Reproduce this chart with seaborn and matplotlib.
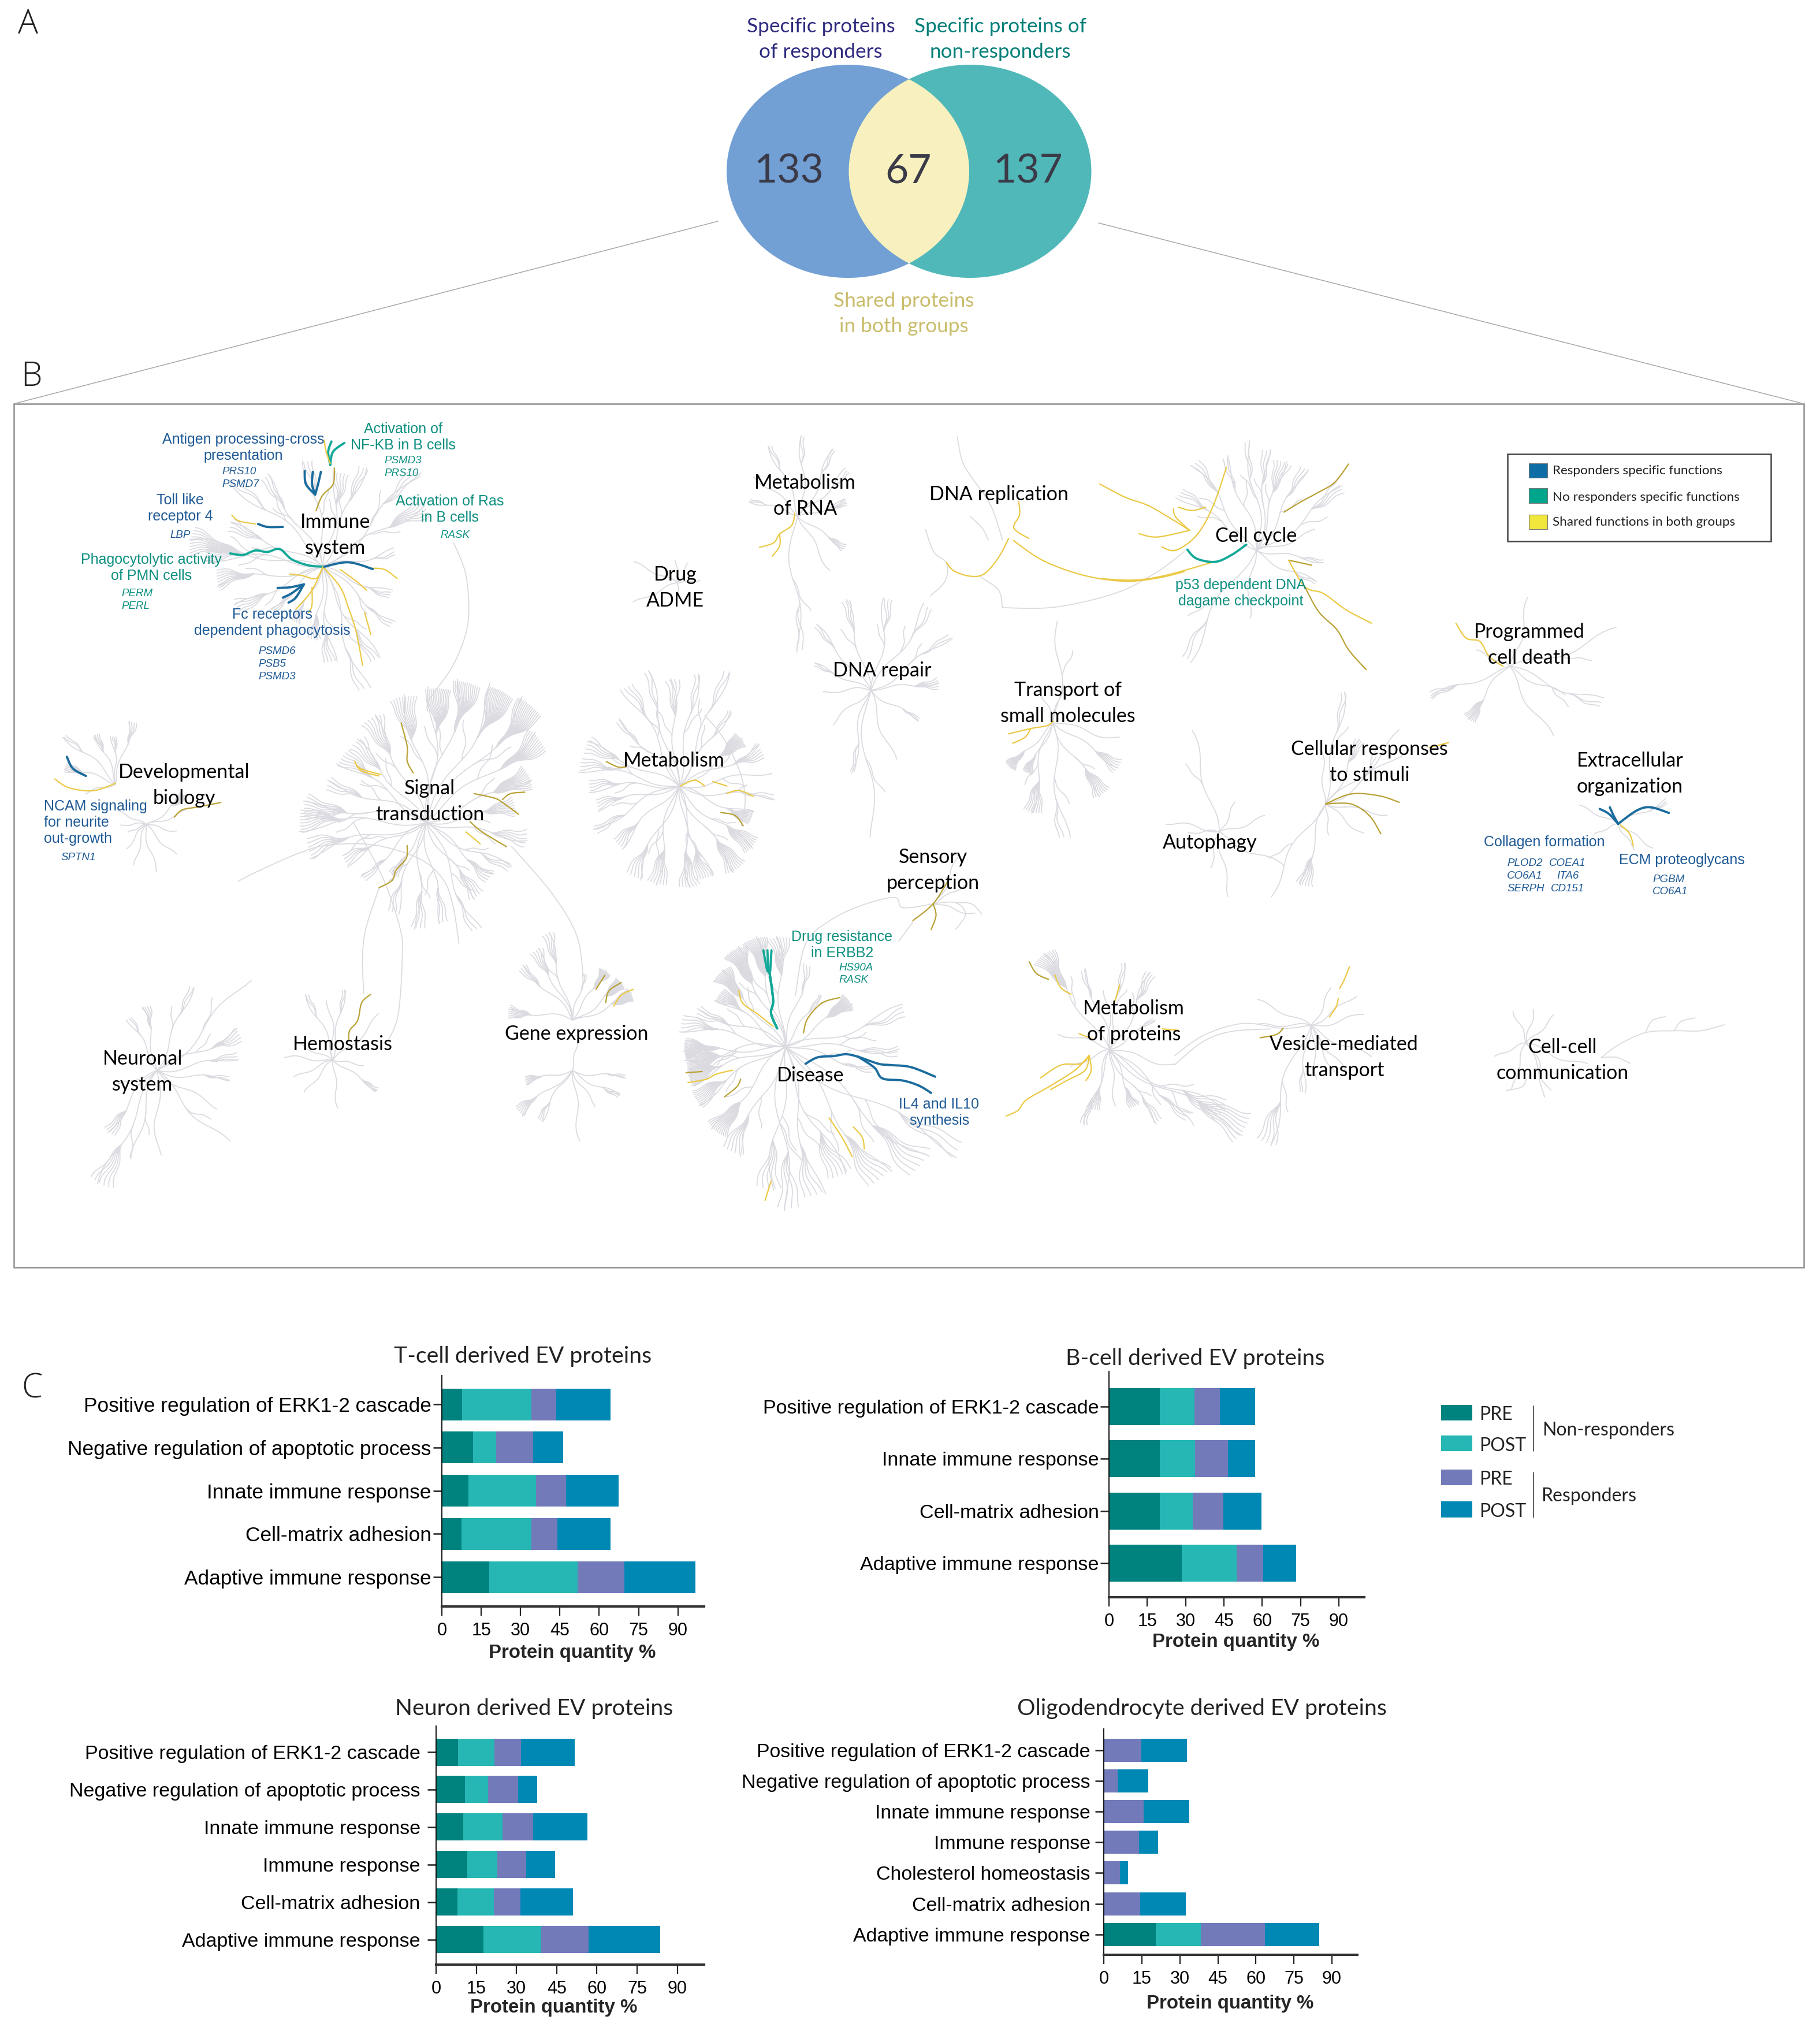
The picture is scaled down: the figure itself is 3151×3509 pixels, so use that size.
import numpy as np
import matplotlib
matplotlib.use("Agg")
import matplotlib.pyplot as plt
from matplotlib.collections import LineCollection
from matplotlib.patches import Ellipse, Rectangle
import seaborn as sns

W, H = 3151, 3509
BAR_COLORS = ["#00827F", "#26B7B5", "#727ABA", "#0088B5"]

# panel A counts
VENN_COUNTS = ["133", "67", "137"]

# panel C values, top row to bottom row
T_LABELS = ["Positive regulation of ERK1-2 cascade", "Negative regulation of apoptotic process",
            "Innate immune response", "Cell-matrix adhesion", "Adaptive immune response"]
T_NR_PRE = [7.7, 11.9, 10.2, 7.5, 18.1]
T_NR_POST = [26.5, 8.8, 25.7, 26.7, 33.7]
T_R_PRE = [9.5, 14.2, 11.5, 9.9, 17.9]
T_R_POST = [20.7, 11.4, 20.1, 20.3, 26.9]

B_LABELS = ["Positive regulation of ERK1-2 cascade", "Innate immune response",
            "Cell-matrix adhesion", "Adaptive immune response"]
B_NR_PRE = [20.0, 20.0, 20.0, 28.6]
B_NR_POST = [13.4, 13.6, 12.9, 21.3]
B_R_PRE = [10.1, 12.9, 12.0, 10.5]
B_R_POST = [13.7, 10.7, 14.9, 13.0]

N_LABELS = ["Positive regulation of ERK1-2 cascade", "Negative regulation of apoptotic process",
            "Innate immune response", "Immune response", "Cell-matrix adhesion",
            "Adaptive immune response"]
N_NR_PRE = [8.2, 10.8, 10.2, 11.7, 7.9, 17.6]
N_NR_POST = [13.5, 8.6, 14.5, 11.1, 13.6, 21.7]
N_R_PRE = [9.9, 11.3, 11.5, 10.9, 9.9, 17.5]
N_R_POST = [20.2, 7.1, 20.3, 10.8, 19.7, 26.9]

O_LABELS = ["Positive regulation of ERK1-2 cascade", "Negative regulation of apoptotic process",
            "Innate immune response", "Immune response", "Cholesterol homeostasis",
            "Cell-matrix adhesion", "Adaptive immune response"]
O_NR_PRE = [0, 0, 0, 0, 0, 0, 20.5]
O_NR_POST = [0, 0, 0, 0, 0, 0, 17.8]
O_R_PRE = [14.8, 5.4, 15.7, 13.9, 6.3, 14.4, 25.2]
O_R_POST = [17.9, 12.2, 17.9, 7.5, 3.3, 18.0, 21.5]

X_TICKS = [0, 15, 30, 45, 60, 75, 90]

# pathway tree hubs and their spokes: (angle, length, twigs)
TREES = [
    (559, 981, [(8,130,2),(25,210,7),(42,240,3),(62,190,3),(78,170,5),(97,190,3),(118,190,3),(135,220,2),
                (150,180,4),(163,240,10),(172,210,9),(183,190,8),(200,170,5),(218,120,3),(240,110,4),
                (258,130,5),(272,170,4),(284,230,2),(298,190,3),(315,160,2),(335,130,3)]),
    (738, 1424, [(5,160,8),(18,200,12),(32,250,12),(45,280,15),(58,270,16),(70,260,14),(84,240,14),(98,230,10),
                 (112,210,7),(125,190,5),(140,190,6),(155,190,4),(168,220,8),(178,225,8),(190,215,6),(203,160,4),
                 (218,150,3),(232,110,5),(247,170,3),(262,190,4),(275,180,3),(290,210,2),(300,160,5),(315,150,5),
                 (330,170,3),(345,180,5)]),
    (1176, 1361, [(5,165,1),(20,160,6),(35,140,12),(50,160,2),(62,220,2),(75,200,2),(88,190,4),(100,210,2),
                  (115,200,3),(130,160,2),(150,180,5),(165,180,4),(178,160,4),(190,150,4),(205,170,3),(222,150,5),
                  (240,180,5),(255,180,7),(270,180,7),(285,170,7),(300,180,9),(318,170,9),(335,140,10),(350,170,2)]),
    (1360, 1812, [(15,220,3),(30,140,14),(50,110,2),(70,150,2),(88,195,8),(100,200,14),(112,195,16),(125,175,14),
                  (140,150,10),(155,170,4),(165,190,5),(176,180,16),(186,180,16),(197,180,14),(210,185,10),(225,195,12),
                  (240,210,6),(258,255,5),(268,290,4),(278,270,4),(292,250,6),(303,290,6),(315,320,6),(325,360,3),
                  (340,160,2),(352,200,3)]),
    (1381, 894, [(15,90,4),(40,120,2),(60,135,2),(85,143,2),(110,135,2),(135,105,1),(160,90,2),(268,240,2),(295,110,1),(320,100,4)]),
    (1173, 1009, [(0,40,1),(60,40,1),(150,85,1),(200,85,1),(90,40,1),(270,20,1)]),
    (1508, 1195, [(0,120,5),(30,170,2),(52,180,2),(78,165,3),(100,165,3),(125,150,2),(150,110,2),(180,85,1),(215,90,1),
                  (255,150,2),(268,260,1),(285,130,1),(325,100,2)]),
    (1823, 1251, [(85,180,1),(110,60,1),(70,80,1),(300,155,8),(272,205,2),(255,165,8),(240,100,9),(220,110,10),(320,140,6),(340,120,1)]),
    (2175, 953, [(140,170,3),(120,190,3),(105,175,2),(92,195,2),(80,180,3),(68,165,6),(55,170,3),(35,190,4),(15,110,1),
                 (345,120,2),(330,120,2),(235,230,2),(260,120,1)]),
    (2614, 1153, [(15,200,1),(72,125,1),(335,175,2),(298,145,1),(195,150,3),(230,120,8),(150,65,1),(330,110,1)]),
    (2295, 1392, [(75,200,2),(88,95,1),(60,130,4),(40,185,1),(30,170,1),(345,110,1),(315,85,1),(250,150,6),(235,190,1),(270,55,1)]),
    (2111, 1440, [(100,185,1),(60,60,1),(15,85,1),(330,130,1),(275,115,1),(255,65,1),(180,55,1),(165,95,1)]),
    (2801, 1426, [(20,95,2),(150,75,1),(320,75,1),(300,55,1),(200,45,1)]),
    (1616, 1565, [(60,95,1),(25,65,1),(340,75,1)]),
    (1921, 1817, [(119,205,12),(105,150,2),(90,105,1),(75,155,2),(60,155,4),(30,95,2),(290,110,6),(270,100,1),(250,110,6),
                  (300,155,3),(315,185,3),(330,230,6),(325,280,8),(340,120,1),(200,75,1),(160,95,1),(245,140,3)]),
    (2270, 1775, [(60,75,1),(30,95,1),(330,120,1),(305,105,1),(290,95,1),(270,95,1),(260,120,2),(248,225,5),(150,105,1),(175,95,1),(10,95,1)]),
    (2642, 1805, [(110,60,1),(70,60,1),(40,70,1),(200,60,1),(250,85,1),(290,95,1),(335,115,1)]),
    (272, 1853, [(42,230,1),(62,160,2),(95,115,4),(115,105,2),(20,160,5),(5,145,3),(350,130,2),(325,125,1),(310,180,1),
                 (195,85,1),(230,140,5),(238,225,6),(250,160,1),(265,150,1)]),
    (576, 1835, [(75,125,2),(40,115,1),(110,125,2),(90,105,1),(150,75,1),(170,85,1),(200,75,1),(225,75,1),(270,85,1),(320,95,3),(345,55,1)]),
    (991, 1766, [(22,115,14),(35,110,14),(50,105,12),(70,85,2),(100,160,4),(112,140,5),(130,130,4),(168,115,7)]),
    (991, 1853, [(270,125,1),(215,120,6),(190,85,6),(235,105,3),(300,75,1),(330,95,3),(350,95,2),(75,55,1)]),
    (253, 1427, [(15,75,1),(35,85,8),(340,55,1),(310,75,1),(280,85,1),(250,75,1),(180,45,1),(150,55,1),(200,35,1),(230,55,1)]),
    (200, 1358, [(70,115,4),(90,85,3),(110,95,4),(135,125,2),(160,95,6),(190,55,1)]),
]

# crops the hand traced paths were read from: x offset, y offset, x scale, y scale
Z5 = (0, 680, 1.4255, 1.96)
Z7 = (1900, 700, 1.2534, 1.742)
Z8 = (1100, 1500, 1.4255, 2.24)
Z9 = (950, 700, 1.4255, 1.96)
Z10 = (30, 1200, 1.4255, 1.96)
Z11 = (1900, 1550, 1.3067, 3.136)

GREY = "#DADAE0"
BLUE = "#1B6C9E"
TEAL = "#14A898"
YEL = "#EBC945"
OLV = "#B9A135"
TXT_BLUE = "#1F5A96"
TXT_TEAL = "#0D8F80"

GREY_ARCS = [
    (Z5, [(1120,510),(1150,620),(1155,780),(1120,920),(1060,1040),(1055,1080)]),
    (Z10, [(545,638),(600,600),(700,540),(770,515),(880,515),(990,560),(1050,630),(1075,720),(1090,850)]),
    (Z10, [(830,440),(900,620),(945,800),(950,900),(940,1090),(915,1180)]),
    (Z10, [(893,660),(860,800),(852,900),(855,1020)]),
    (Z10, [(1220,520),(1320,680),(1380,820),(1397,960)]),
    (Z9, [(1120,690),(1250,688),(1400,640),(1500,570),(1568,500)]),
    (Z9, [(1120,690),(1110,630),(1065,585)]),
    (Z9, [(1008,110),(1020,190),(1040,240),(1090,340),(1120,460)]),
    (Z9, [(930,425),(950,500),(982,540),(978,600),(942,650)]),
    (Z9, [(1040,380),(1070,420),(1085,460)]),
    (Z9, [(385,1055),(430,1130),(470,1240),(485,1340),(475,1430)]),
    (Z8, [(395,500),(420,300),(480,210),(560,150),(640,120),(660,160),(735,145)]),
    (Z8, [(650,290),(685,215)]),
    (Z8, [(735,145),(790,140),(815,185),(790,245)]),
    (Z8, [(790,140),(830,145),(855,185)]),
    (Z8, [(1330,770),(1400,680),(1470,640),(1568,630)]),
    (Z11, [(175,870),(240,760),(330,695),(420,722),(483,705)]),
    (Z11, [(970,800),(1000,900),(1000,1000),(1012,1095)]),
    (Z11, [(1140,880),(1180,810),(1240,745),(1305,735),(1365,735),(1418,702)]),
    (Z11, [(1240,745),(1255,680),(1285,658)]),
    (Z11, [(1305,735),(1320,685),(1352,665)]),
    (Z11, [(1140,880),(1175,880),(1205,912)]),
    (Z11, [(970,1000),(960,1040),(925,1060)]),
]

COLOR_PATHS = [
    (Z5, TEAL, [(815,245),(822,200),(850,170)]),
    (Z5, TEAL, [(815,245),(810,200),(818,165)]),
    (Z5, TEAL, [(568,545),(600,550),(630,535),(660,540),(690,530),(720,565),(760,585),(797,590)]),
    (Z5, YEL, [(815,240),(805,200),(800,160)]),
    (Z5, OLV, [(825,255),(822,310),(795,350),(780,400)]),
    (Z5, YEL, [(572,415),(590,435),(630,445)]),
    (Z5, YEL, [(797,590),(780,630),(745,620),(715,615)]),
    (Z5, YEL, [(797,590),(770,670),(730,735)]),
    (Z5, YEL, [(770,660),(770,720),(762,745)]),
    (Z5, YEL, [(797,590),(840,660),(860,730),(875,790),(885,850),(895,925)]),
    (Z5, YEL, [(900,745),(915,820)]),
    (Z5, YEL, [(840,600),(880,640),(905,670)]),
    (Z5, YEL, [(920,595),(950,600),(980,630)]),
    (Z5, BLUE, [(778,345),(755,310),(752,265)]),
    (Z5, BLUE, [(778,345),(770,310),(772,268)]),
    (Z5, BLUE, [(778,345),(785,310),(792,268)]),
    (Z5, BLUE, [(637,445),(660,455),(698,455)]),
    (Z5, BLUE, [(800,590),(860,575),(920,598)]),
    (Z5, BLUE, [(750,650),(730,695),(712,712)]),
    (Z5, BLUE, [(750,650),(720,680),(698,695)]),
    (Z5, BLUE, [(750,650),(715,660),(685,662)]),
    (Z5, BLUE, [(165,1235),(180,1275),(212,1300)]),
    (Z5, YEL, [(135,1310),(170,1340),(230,1350),(285,1325)]),
    (Z5, OLV, [(430,1440),(450,1415),(490,1405),(545,1390)]),
    (Z5, OLV, [(990,1120),(1005,1200),(1005,1250),(1020,1290)]),
    (Z5, YEL, [(875,1250),(890,1275),(940,1295)]),
    (Z5, YEL, [(880,1265),(895,1285),(935,1300)]),
    (Z5, OLV, [(1170,1360),(1220,1375),(1240,1390),(1280,1430)]),
    (Z5, OLV, [(1240,1380),(1260,1360),(1295,1355)]),
    (Z5, OLV, [(1160,1455),(1190,1490),(1250,1540)]),
    (Z5, YEL, [(1150,1490),(1185,1530)]),
    (Z10, OLV, [(962,517),(960,560),(935,600),(925,635),(893,660)]),
    (Z10, OLV, [(872,1022),(850,1050),(840,1110),(820,1145),(818,1180)]),
    (Z10, OLV, [(1450,957),(1428,1005)]),
    (Z10, OLV, [(1490,982),(1460,1010),(1452,1050)]),
    (Z10, YEL, [(1520,1005),(1490,1025),(1472,1062)]),
    (Z9, YEL, [(607,370),(600,410),(570,440),(555,470),(520,485)]),
    (Z9, YEL, [(570,440),(570,480),(552,515)]),
    (Z9, YEL, [(1160,330),(1162,375),(1148,420),(1185,455)]),
    (Z9, YEL, [(1135,455),(1110,520),(1075,575),(1040,583),(1000,565),(982,537)]),
    (Z9, YEL, [(1147,462),(1220,530),(1320,580),(1420,600),(1500,590),(1568,568)]),
    (Z7, YEL, [(0,525),(80,530),(150,515),(245,478)]),
    (Z7, YEL, [(5,240),(60,280),(110,305),(160,345),(200,380)]),
    (Z7, YEL, [(200,380),(170,340),(165,315)]),
    (Z7, YEL, [(90,390),(130,400),(200,380)]),
    (Z7, YEL, [(140,430),(170,440),(215,395),(250,310),(280,190)]),
    (Z7, YEL, [(175,310),(205,320),(235,310)]),
    (Z7, OLV, [(405,325),(440,295),(480,265),(515,235),(545,180)]),
    (Z7, OLV, [(415,470),(465,485)]),
    (Z7, YEL, [(415,470),(450,550),(490,570),(540,620),(595,660)]),
    (Z7, OLV, [(450,550),(480,625),(520,680),(545,740),(583,800)]),
    (Z7, TEAL, [(195,438),(215,465),(255,475),(290,455),(323,423)]),
    (Z7, YEL, [(778,660),(800,705),(830,715),(850,760),(880,790)]),
    (Z7, OLV, [(495,1205),(550,1175),(610,1180),(655,1200)]),
    (Z7, OLV, [(495,1205),(550,1205),(590,1240),(615,1295)]),
    (Z7, YEL, [(720,1035),(762,1020)]),
    (Z7, BLUE, [(1130,1265),(1110,1235),(1090,1220)]),
    (Z7, BLUE, [(1130,1265),(1120,1240),(1112,1215)]),
    (Z7, BLUE, [(1130,1265),(1170,1225),(1200,1215),(1240,1232)]),
    (Z7, YEL, [(1135,1268),(1155,1295),(1163,1332)]),
    (Z9, OLV, [(142,1212),(170,1230),(190,1230)]),
    (Z9, YEL, [(325,1295),(360,1275),(385,1295)]),
    (Z9, YEL, [(405,1280),(440,1295)]),
    (Z9, YEL, [(440,1320),(470,1310),(505,1330)]),
    (Z9, OLV, [(425,1385),(460,1395),(480,1430)]),
    (Z9, YEL, [(1245,1075),(1230,1090),(1190,1100),(1135,1118)]),
    (Z9, YEL, [(1190,1100),(1175,1130),(1145,1150)]),
    (Z8, OLV, [(770,60),(735,145),(685,210)]),
    (Z8, OLV, [(735,145),(742,190),(730,245)]),
    (Z8, TEAL, [(350,628),(335,570),(340,520),(332,420),(325,400),(316,325)]),
    (Z8, TEAL, [(350,628),(335,570),(340,520),(332,420),(328,400),(326,325)]),
    (Z8, TEAL, [(350,628),(335,570),(340,520),(332,420),(333,400),(336,325)]),
    (Z8, BLUE, [(420,765),(450,740),(490,735),(520,728),(550,738),(600,765),(630,770),(680,778),(740,815)]),
    (Z8, BLUE, [(550,738),(590,780),(610,822),(660,830),(700,850),(730,878)]),
    (Z8, YEL, [(255,480),(265,530),(300,570),(340,620)]),
    (Z8, OLV, [(415,645),(425,590),(460,530),(505,508)]),
    (Z8, OLV, [(125,800),(165,795)]),
    (Z8, YEL, [(130,838),(175,825),(200,805),(240,790)]),
    (Z8, OLV, [(220,893),(250,855),(260,825)]),
    (Z8, YEL, [(478,975),(510,1050),(535,1125)]),
    (Z8, YEL, [(538,1010),(560,1050),(565,1095)]),
    (Z8, YEL, [(320,1295),(335,1220)]),
    (Z8, YEL, [(1120,733),(1100,765),(1050,770),(1000,820)]),
    (Z8, YEL, [(1120,733),(1085,790),(1025,850),(965,905),(945,945),(915,968)]),
    (Z8, YEL, [(1120,733),(1110,790),(1065,830),(1025,865)]),
    (Z8, YEL, [(1120,733),(1125,790),(1112,830)]),
    (Z8, OLV, [(972,370),(990,415),(1020,438)]),
    (Z8, YEL, [(1035,420),(1050,470),(1075,495)]),
    (Z8, YEL, [(1195,460),(1183,525)]),
    (Z8, YEL, [(1095,648),(1130,670)]),
    (Z8, YEL, [(1300,630),(1340,635)]),
    (Z11, OLV, [(420,722),(405,755),(368,773)]),
    (Z11, YEL, [(570,388),(558,460),(548,505)]),
    (Z11, YEL, [(545,560),(540,605),(525,660)]),
]

# big black pathway names: text, x, y
TREE_NAMES = [
    ("Immune\nsystem", 581, 926), ("Developmental\nbiology", 319, 1359), ("Signal\ntransduction", 744, 1387),
    ("Metabolism", 1167, 1317), ("Metabolism\nof RNA", 1394, 858), ("Drug\nADME", 1169, 1017),
    ("DNA replication", 1729, 856), ("DNA repair", 1527, 1161), ("Transport of\nsmall molecules", 1849, 1217),
    ("Cell cycle", 2175, 928), ("Programmed\ncell death", 2648, 1116), ("Cellular responses\nto stimuli", 2371, 1319),
    ("Autophagy", 2095, 1459), ("Extracellular\norganization", 2822, 1339), ("Sensory\nperception", 1615, 1506),
    ("Disease", 1403, 1862), ("Metabolism\nof proteins", 1963, 1768), ("Vesicle-mediated\ntransport", 2327, 1830),
    ("Cell-cell\ncommunication", 2705, 1835), ("Neuronal\nsystem", 247, 1855), ("Hemostasis", 593, 1808),
    ("Gene expression", 998, 1790),
]

# coloured function names: text, x, y, colour
FUNC_NAMES = [
    ("Antigen processing-cross\npresentation", 421, 775, TXT_BLUE),
    ("Activation of\nNF-KB in B cells", 698, 757, TXT_TEAL),
    ("Toll like\nreceptor 4", 312, 880, TXT_BLUE),
    ("Activation of Ras\nin B cells", 779, 882, TXT_TEAL),
    ("Phagocytolytic activity\nof PMN cells", 262, 983, TXT_TEAL),
    ("Fc receptors\ndependent phagocytosis", 471, 1078, TXT_BLUE),
    ("p53 dependent DNA\ndagame checkpoint", 2148, 1027, TXT_TEAL),
    ("Collagen formation", 2674, 1458, TXT_BLUE),
    ("ECM proteoglycans", 2912, 1489, TXT_BLUE),
    ("Drug resistance\nin ERBB2", 1458, 1636, TXT_TEAL),
    ("IL4 and IL10\nsynthesis", 1626, 1926, TXT_BLUE),
]

# italic protein names: text, left x, y, colour
GENE_NAMES = [
    ("PRS10", 384, 816, TXT_BLUE), ("PSMD7", 384, 838, TXT_BLUE),
    ("PSMD3", 665, 797, TXT_TEAL), ("PRS10", 665, 819, TXT_TEAL),
    ("LBP", 294, 926, TXT_BLUE), ("RASK", 762, 926, TXT_TEAL),
    ("PERM", 210, 1027, TXT_TEAL), ("PERL", 210, 1049, TXT_TEAL),
    ("PSMD6", 447, 1127, TXT_BLUE), ("PSB5", 447, 1149, TXT_BLUE), ("PSMD3", 447, 1171, TXT_BLUE),
    ("SPTN1", 105, 1484, TXT_BLUE),
    ("PLOD2", 2609, 1494, TXT_BLUE), ("CO6A1", 2609, 1516, TXT_BLUE), ("SERPH", 2609, 1538, TXT_BLUE),
    ("COEA1", 2682, 1494, TXT_BLUE), ("ITA6", 2695, 1516, TXT_BLUE), ("CD151", 2685, 1538, TXT_BLUE),
    ("PGBM", 2861, 1522, TXT_BLUE), ("CO6A1", 2861, 1543, TXT_BLUE),
    ("HS90A", 1452, 1675, TXT_TEAL), ("RASK", 1452, 1696, TXT_TEAL),
]


def smooth(pts):
    p = np.array(pts, float)
    p = np.vstack([p[0], p, p[-1]])
    out = []
    t = np.linspace(0, 1, 10)[:, None]
    for i in range(1, len(p) - 2):
        a, b, c, d = p[i - 1], p[i], p[i + 1], p[i + 2]
        out.append(0.5 * (2 * b + (c - a) * t + (2 * a - 5 * b + 4 * c - d) * t ** 2 + (3 * b - a - 3 * c + d) * t ** 3))
    return np.vstack(out)


def from_crop(crop, pts):
    x0, y0, sx, sy = crop
    return [(x0 + px / sx, y0 + py / sy) for px, py in pts]


def wavy(x, y, ang, length, phase):
    t = np.linspace(0, 1, 18)
    heading = np.radians(ang + 16 * np.sin(t * 8 + phase) + 10 * t)
    step = length / (len(t) - 1)
    xs = x + np.concatenate([[0], np.cumsum(np.cos(heading[:-1]))]) * step
    ys = y - np.concatenate([[0], np.cumsum(np.sin(heading[:-1]))]) * step
    return np.column_stack([xs, ys])


def tree_segments(hx, hy, spokes):
    segs = []
    for ang, length, twigs in spokes:
        main = wavy(hx, hy, ang, length, ang)
        segs.append(main)
        k = int(len(main) * 0.66)
        if twigs > 1:
            gap = min(7, 38 / twigs)
            for j in range(twigs):
                a = ang + (j - (twigs - 1) / 2) * gap
                segs.append(wavy(main[k, 0], main[k, 1], a, length * 0.34, ang + j * 0.15))
        if length > 150:
            side = 26 if ang % 2 == 0 else -26
            mid = main[int(len(main) * 0.45)]
            segs.append(wavy(mid[0], mid[1], ang + side, length * 0.26, ang * 2))
    return segs


def stacked(ax, labels, series, bar_width):
    totals = np.cumsum(series, axis=0)
    for vals, color in zip(totals[::-1], BAR_COLORS[::-1]):
        sns.barplot(x=vals, y=labels, order=labels, color=color, saturation=1,
                    width=bar_width, orient="h", linewidth=0, ax=ax)


sns.set_theme(style="ticks")
plt.rcParams["font.family"] = ["Liberation Sans", "DejaVu Sans"]

fig = plt.figure(figsize=(W / 100, H / 100), dpi=100, facecolor="white")
bg = fig.add_axes([0, 0, 1, 1])
bg.set_xlim(0, W)
bg.set_ylim(H, 0)
bg.axis("off")

# panel A
left = Ellipse((1468, 296.5), 420, 369, fc="#729FD4", ec="none")
right = Ellipse((1679.5, 296.5), 420, 369, fc="#51B8B9", ec="none")
bg.add_patch(left)
bg.add_patch(right)
lens = Ellipse((1468, 296.5), 420, 369, fc="#F8F1BF", ec="none")
bg.add_patch(lens)
lens.set_clip_path(right)
for txt, x in zip(VENN_COUNTS, [1366, 1573, 1780]):
    bg.text(x, 297, txt, fontsize=50, family="Lato", color="#3A3A48", ha="center", va="center")
bg.text(1421, 68, "Specific proteins\nof responders", fontsize=25.3, family="Lato", color="#2E2A7F",
        ha="center", va="center", linespacing=1.45)
bg.text(1732, 68, "Specific proteins of\nnon-responders", fontsize=25.3, family="Lato", color="#007F78",
        ha="center", va="center", linespacing=1.45)
bg.text(1565, 543, "Shared proteins\nin both groups", fontsize=25.3, family="Lato", color="#C9BC6A",
        ha="center", va="center", linespacing=1.45)
for txt, x, y in [("A", 49, 42), ("B", 54, 652), ("C", 56, 2404)]:
    bg.text(x, y, txt, fontsize=42, family="Open Sans", weight="light", color="#222222", ha="center", va="center")

# panel B frame and connector lines
bg.add_patch(Rectangle((24, 699), 3099, 1495, fc="none", ec="#8F8F8F", lw=1.8))
bg.plot([1243, 24], [383, 699], color="#A8A8A8", lw=1.1)
bg.plot([1902, 3123], [386, 699], color="#A8A8A8", lw=1.1)

segs = []
for hx, hy, spokes in TREES:
    segs += tree_segments(hx, hy, spokes)
bg.add_collection(LineCollection(segs, colors=GREY, linewidths=1.25, capstyle="round"))
for crop, pts in GREY_ARCS:
    line = smooth(from_crop(crop, pts))
    bg.plot(line[:, 0], line[:, 1], color=GREY, lw=1.25)
for crop, color, pts in COLOR_PATHS:
    line = smooth(from_crop(crop, pts))
    lw = 1.6 if color in (YEL, OLV) else 2.8
    bg.plot(line[:, 0], line[:, 1], color=color, lw=lw, solid_capstyle="round")

for txt, x, y in TREE_NAMES:
    bg.text(x, y, txt, fontsize=24.5, family="Lato", color="black", ha="center", va="center", linespacing=1.5)
for txt, x, y, c in FUNC_NAMES:
    bg.text(x, y, txt, fontsize=18, color=c, ha="center", va="center", linespacing=1.2)
bg.text(76, 1424, "NCAM signaling\nfor neurite\nout-growth", fontsize=18, color=TXT_BLUE,
        ha="left", va="center", linespacing=1.2)
for txt, x, y, c in GENE_NAMES:
    bg.text(x, y, txt, fontsize=13.5, style="italic", color=c, ha="left", va="center")

# panel B legend
bg.add_patch(Rectangle((2610, 786), 456, 151, fc="white", ec="#444444", lw=1.8))
for (y0, y1, c, txt, ty) in [(802, 827, "#0F6DA5", "Responders specific functions", 815),
                             (845, 871, "#00A68C", "No responders specific functions", 861),
                             (891, 916, "#F0E63C", "Shared functions in both groups", 904)]:
    bg.add_patch(Rectangle((2647, y0), 32, y1 - y0, fc=c, ec="#777777", lw=0.8))
    bg.text(2688, ty, txt, fontsize=16.2, family="Lato", color="#222222", ha="left", va="center")

# panel C legend
for y0, y1, c in [(2432, 2459, BAR_COLORS[0]), (2485, 2512, BAR_COLORS[1]),
                  (2544, 2571, BAR_COLORS[2]), (2599, 2627, BAR_COLORS[3])]:
    bg.add_patch(Rectangle((2495, y0), 54, y1 - y0, fc=c, ec="none"))
for txt, y in [("PRE", 2449), ("POST", 2503), ("PRE", 2561), ("POST", 2617)]:
    bg.text(2561, y, txt, fontsize=23, family="Lato", color="#222222", ha="left", va="center")
bg.plot([2655, 2655], [2434, 2512], color="#333333", lw=1.1)
bg.plot([2655, 2655], [2549, 2627], color="#333333", lw=1.1)
bg.text(2670, 2476, "Non-responders", fontsize=23, family="Lato", color="#222222", ha="left", va="center")
bg.text(2668, 2590, "Responders", fontsize=23, family="Lato", color="#222222", ha="left", va="center")

# panel C charts: x of 0, x of 100, axis top, axis bottom, first bar, row gap, bar px, tick pad px, label size
panels = [
    ("T-cell derived EV proteins", T_LABELS, [T_NR_PRE, T_NR_POST, T_R_PRE, T_R_POST],
     765, 1219, 2381, 2781, 2431, 74.8, 55, 3, 25.4, (905, 2348), (991, 2861)),
    ("B-cell derived EV proteins", B_LABELS, [B_NR_PRE, B_NR_POST, B_R_PRE, B_R_POST],
     1920, 2362, 2374, 2765, 2435, 90.3, 64, 2, 24.6, (2069, 2352), (2140, 2843)),
    ("Neuron derived EV proteins", N_LABELS, [N_NR_PRE, N_NR_POST, N_R_PRE, N_R_POST],
     755, 1219, 2988, 3401, 3033, 64.9, 47, 12, 24.5, (925, 2958), (959, 3475)),
    ("Oligodendrocyte derived EV proteins", O_LABELS, [O_NR_PRE, O_NR_POST, O_R_PRE, O_R_POST],
     1911, 2350, 2993, 3384, 3030, 53.1, 40, 8, 24.4, (2081, 2958), (2130, 3468)),
]

for title, labels, series, x0, x1, ytop, ybot, first, gap, bar_px, pad, lab_size, tpos, xpos in panels:
    ax = fig.add_axes([x0 / W, 1 - ybot / H, (x1 - x0) / W, (ybot - ytop) / H])
    ax.patch.set_alpha(0)
    stacked(ax, labels, np.array(series, float), bar_px / gap)
    ax.set_xlim(0, 100)
    ax.set_ylim((ybot - first) / gap, (ytop - first) / gap)
    ax.set_xticks(X_TICKS)
    ax.set_xticklabels([str(v) for v in X_TICKS])
    ax.tick_params(axis="x", length=11.5, width=1.6, pad=8, labelsize=22, color="#222222", labelcolor="black")
    ax.tick_params(axis="y", length=11, width=1.8, pad=pad * 0.72, labelsize=lab_size, color="#222222", labelcolor="black")
    for s in ["top", "right"]:
        ax.spines[s].set_visible(False)
    ax.spines["left"].set_linewidth(1.4)
    ax.spines["left"].set_color("#111111")
    ax.spines["bottom"].set_linewidth(3)
    ax.spines["bottom"].set_color("#333333")
    ax.set_ylabel("")
    ax.set_xlabel("Protein quantity %", fontsize=23.8, weight="bold", va="center")
    ax.xaxis.set_label_coords((xpos[0] - x0) / (x1 - x0), (ybot - xpos[1]) / (ybot - ytop))
    bg.text(tpos[0], tpos[1], title, fontsize=28.3, family="Lato", color="#222222", ha="center", va="center")

fig.savefig("out.png", dpi=100, facecolor="white")
